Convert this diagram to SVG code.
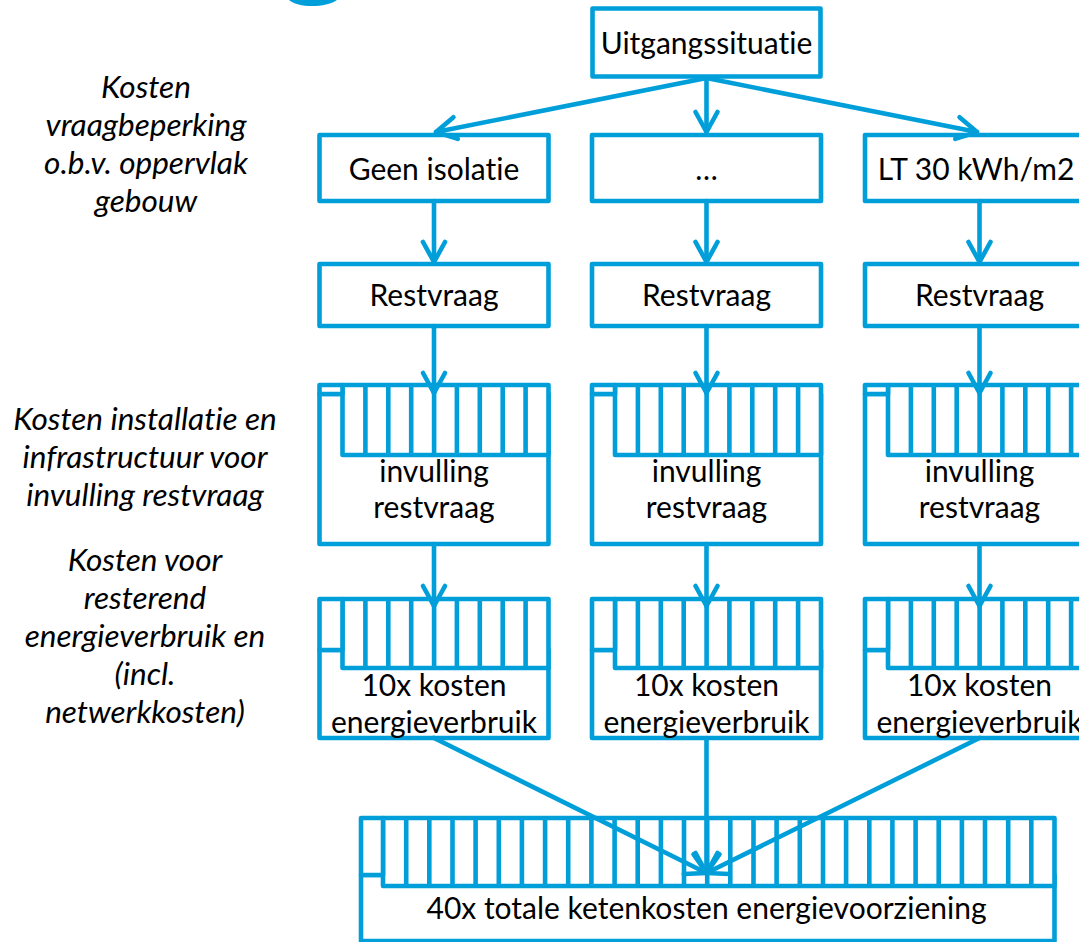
<svg xmlns="http://www.w3.org/2000/svg" width="1079" height="942" viewBox="0 0 1079 942">
<style>
.b{fill:#fff;stroke:#009FDA;stroke-width:4.6;stroke-linejoin:round}
.s{fill:none;stroke:#009FDA;stroke-width:4.6}
.t{font-family:Lato,"Open Sans",sans-serif;font-size:30px;fill:#000;text-anchor:middle;font-variant-ligatures:none;font-feature-settings:"liga" 0,"dlig" 0}
.l{font-family:Lato,"Open Sans",sans-serif;font-size:31.5px;font-style:italic;fill:#000;text-anchor:middle;font-variant-ligatures:none;font-feature-settings:"liga" 0,"dlig" 0}
.c{fill:none;stroke:#009FDA;stroke-width:4.6;stroke-linecap:round;marker-end:url(#ah)}
</style>
<defs>
<marker id="ah" markerUnits="userSpaceOnUse" orient="auto" refX="0" refY="0" markerWidth="30" markerHeight="30" overflow="visible">
<path d="M-20,-11 L0,0 L-20,11" fill="none" stroke="#009FDA" stroke-width="4.6" stroke-linecap="round" stroke-linejoin="round"/>
</marker>
</defs>
<rect width="1079" height="942" fill="#fff"/>
<path d="M289,0 C294,4 302,6 312,6 C322,6 331,4 337,0 Z" fill="#009FDA"/>

<g id="labels">
<text class="l" x="146" y="98">Kosten</text>
<text class="l" x="146" y="136">vraagbeperking</text>
<text class="l" x="146" y="174">o.b.v. oppervlak</text>
<text class="l" x="146" y="212">gebouw</text>
<text class="l" x="145" y="430">Kosten installatie en</text>
<text class="l" x="145" y="468">infrastructuur voor</text>
<text class="l" x="145" y="506">invulling restvraag</text>
<text class="l" x="145" y="571">Kosten voor</text>
<text class="l" x="145" y="609">resterend</text>
<text class="l" x="145" y="647">energieverbruik en</text>
<text class="l" x="145" y="685">(incl.</text>
<text class="l" x="145" y="723">netwerkkosten)</text>
</g>

<g id="n-uitgang">
<rect class="b" x="592.5" y="8.5" width="228" height="68"/>
<text class="t" x="706.5" y="54">Uitgangssituatie</text>
</g>

<g id="n-geen">
<rect class="b" x="319.5" y="135" width="229" height="66"/>
<text class="t" x="434" y="180">Geen isolatie</text>
</g>
<g id="n-dots">
<rect class="b" x="592" y="135" width="229" height="66"/>
<text class="t" x="706.5" y="180">…</text>
</g>
<g id="n-lt30">
<rect class="b" x="865" y="135" width="229" height="66"/>
<text class="t" x="976" y="180">LT 30 kWh/m2</text>
</g>

<g id="n-rest1">
<rect class="b" x="319.5" y="264" width="229" height="62"/>
<text class="t" x="434" y="306">Restvraag</text>
</g>
<g id="n-rest2">
<rect class="b" x="592" y="264" width="229" height="62"/>
<text class="t" x="706.5" y="306">Restvraag</text>
</g>
<g id="n-rest3">
<rect class="b" x="865" y="264" width="229" height="62"/>
<text class="t" x="979.5" y="306">Restvraag</text>
</g>

<g id="n-inv1">
<rect class="b" x="319.5" y="394" width="229" height="150"/>
<rect class="b" x="342.5" y="385" width="206" height="70"/>
<path class="s" d="M365.4,385V455M388.3,385V455M411.2,385V455M434.1,385V455M456.9,385V455M479.8,385V455M502.7,385V455M525.6,385V455"/>
<rect class="b" x="319.5" y="385" width="23" height="9"/>
<text class="t" x="434" y="482">invulling</text>
<text class="t" x="434" y="518">restvraag</text>
</g>
<g id="n-inv2">
<rect class="b" x="592" y="394" width="229" height="150"/>
<rect class="b" x="615" y="385" width="206" height="70"/>
<path class="s" d="M637.9,385V455M660.8,385V455M683.7,385V455M706.6,385V455M729.4,385V455M752.3,385V455M775.2,385V455M798.1,385V455"/>
<rect class="b" x="592" y="385" width="23" height="9"/>
<text class="t" x="706.5" y="482">invulling</text>
<text class="t" x="706.5" y="518">restvraag</text>
</g>
<g id="n-inv3">
<rect class="b" x="865" y="394" width="229" height="150"/>
<rect class="b" x="888" y="385" width="206" height="70"/>
<path class="s" d="M910.9,385V455M933.8,385V455M956.7,385V455M979.6,385V455M1002.4,385V455M1025.3,385V455M1048.2,385V455M1071.1,385V455"/>
<rect class="b" x="865" y="385" width="23" height="9"/>
<text class="t" x="979.5" y="482">invulling</text>
<text class="t" x="979.5" y="518">restvraag</text>
</g>

<g id="n-kost1">
<rect class="b" x="319.5" y="650" width="229" height="88"/>
<rect class="b" x="342.5" y="599" width="206" height="69"/>
<path class="s" d="M365.4,599V668M388.3,599V668M411.2,599V668M434.1,599V668M456.9,599V668M479.8,599V668M502.7,599V668M525.6,599V668"/>
<rect class="b" x="319.5" y="599" width="23" height="51"/>
<text class="t" x="434" y="696">10x kosten</text>
<text class="t" x="434" y="733">energieverbruik</text>
</g>
<g id="n-kost2">
<rect class="b" x="592" y="650" width="229" height="88"/>
<rect class="b" x="615" y="599" width="206" height="69"/>
<path class="s" d="M637.9,599V668M660.8,599V668M683.7,599V668M706.6,599V668M729.4,599V668M752.3,599V668M775.2,599V668M798.1,599V668"/>
<rect class="b" x="592" y="599" width="23" height="51"/>
<text class="t" x="706.5" y="696">10x kosten</text>
<text class="t" x="706.5" y="733">energieverbruik</text>
</g>
<g id="n-kost3">
<rect class="b" x="865" y="650" width="229" height="88"/>
<rect class="b" x="888" y="599" width="206" height="69"/>
<path class="s" d="M910.9,599V668M933.8,599V668M956.7,599V668M979.6,599V668M1002.4,599V668M1025.3,599V668M1048.2,599V668M1071.1,599V668"/>
<rect class="b" x="865" y="599" width="23" height="51"/>
<text class="t" x="979.5" y="696">10x kosten</text>
<text class="t" x="979.5" y="733">energieverbruik</text>
</g>

<g id="n-totaal">
<rect class="b" x="361" y="875" width="693.5" height="66"/>
<rect class="b" x="383" y="818" width="671.5" height="68"/>
<path class="s" d="M406.2,818V886M429.3,818V886M452.5,818V886M475.6,818V886M498.8,818V886M521.9,818V886M545.1,818V886M568.2,818V886M591.4,818V886M614.6,818V886M637.7,818V886M660.9,818V886M684,818V886M707.2,818V886M730.3,818V886M753.5,818V886M776.6,818V886M799.8,818V886M823,818V886M846.1,818V886M869.3,818V886M892.4,818V886M915.6,818V886M938.7,818V886M961.9,818V886M985,818V886M1008.2,818V886M1031.3,818V886"/>
<rect class="b" x="361" y="818" width="22" height="57"/>
<text class="t" x="706.5" y="919">40x totale ketenkosten energievoorziening</text>
</g>

<g id="connectors">
<path class="c" d="M706.5,78L436,132"/>
<path class="c" d="M706.5,78V132"/>
<path class="c" d="M706.5,78L977,132"/>
<path class="c" d="M434,201V262"/>
<path class="c" d="M706.5,201V262"/>
<path class="c" d="M979.5,201V262"/>
<path class="c" d="M434,326V393"/>
<path class="c" d="M706.5,326V393"/>
<path class="c" d="M979.5,326V393"/>
<path class="c" d="M434,544V606"/>
<path class="c" d="M706.5,544V606"/>
<path class="c" d="M979.5,544V606"/>
<path class="c" d="M434,738L706.5,873"/>
<path class="c" d="M706.5,738V873"/>
<path class="c" d="M979.5,738L706.5,873"/>
</g>
</svg>
